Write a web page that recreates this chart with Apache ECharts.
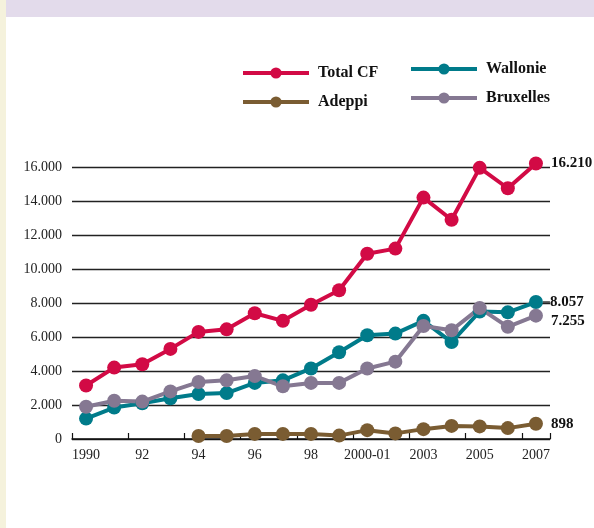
<!DOCTYPE html>
<html>
<head>
<meta charset="utf-8">
<script src="https://cdn.jsdelivr.net/npm/echarts@6/dist/echarts.min.js"></script>
<style>
html,body{margin:0;padding:0;background:#fff;}
#chart{width:594px;height:528px;}
</style>
</head>
<body>
<div id="chart"></div>
<script>
var categories = ['1990','91','92','93','94','95','96','97','98','99','2000-01','2002','2003','2004','2005','2006','2007'];
var totalCF   = [3150,4200,4400,5300,6300,6450,7400,6950,7900,8750,10900,11200,14200,12900,15950,14750,16210];
var wallonie  = [1200,1850,2100,2400,2650,2700,3300,3450,4150,5100,6100,6200,6950,5700,7500,7450,8057];
var adeppi    = [null,null,null,null,180,180,300,300,300,200,520,330,580,770,740,640,898];
var bruxelles = [1900,2250,2200,2800,3350,3450,3700,3100,3300,3300,4150,4550,6650,6400,7700,6600,7255];
var yTicks = [0,2000,4000,6000,8000,10000,12000,14000,16000];
var endLabels = {'Total CF':'16.210','Wallonie':'8.057','Adeppi':'898','Bruxelles':'7.255'};

var SERIF = '"Liberation Serif", "DejaVu Serif", serif';
var colors = {'Total CF':'#d20a45','Wallonie':'#007b8a','Adeppi':'#7a5c32','Bruxelles':'#857892'};

function fmtNum(v){
  return String(v).replace(/\B(?=(\d{3})+(?!\d))/g,'.');
}

function mk(name, values, labelOpts){
  var last = values.length - 1;
  return {
    name: name,
    type: 'line',
    clip: false,
    symbol: 'circle',
    symbolSize: 14,
    showAllSymbol: true,
    color: colors[name],
    lineStyle: {width: 4, color: colors[name]},
    itemStyle: {color: colors[name]},
    emphasis: {disabled: true},
    data: values.map(function(v, i){
      if (i !== last) return v;
      return {
        value: v,
        label: Object.assign({
          show: true,
          position: 'right',
          distance: 8,
          fontFamily: SERIF,
          fontWeight: 'bold',
          fontSize: 15,
          color: '#111',
          formatter: endLabels[name]
        }, labelOpts || {})
      };
    })
  };
}

function legendItem(name){
  return {name: name, lineStyle: {width: 4, color: colors[name]}, itemStyle: {color: colors[name]}};
}

var legendText = {fontFamily: SERIF, fontWeight: 'bold', fontSize: 16, color: '#111', padding: [0, 0, 0, 4]};

var chart = echarts.init(document.getElementById('chart'), null, {renderer:'canvas'});
chart.setOption({
  animation: false,
  backgroundColor: '#ffffff',
  graphic: [
    {type:'rect', left:0, top:0, shape:{width:6, height:528}, style:{fill:'#f5f2dc'}, z:-10},
    {type:'rect', left:6, top:0, shape:{width:588, height:17}, style:{fill:'#e3dbeb'}, z:-10}
  ],
  legend: [
    {
      data: [legendItem('Total CF'), legendItem('Adeppi')],
      orient: 'vertical',
      left: 241, top: 65, padding: 0,
      itemWidth: 66, itemHeight: 14, itemGap: 13,
      textStyle: legendText,
      selectedMode: false
    },
    {
      data: [legendItem('Wallonie'), legendItem('Bruxelles')],
      orient: 'vertical',
      left: 409, top: 61, padding: 0,
      itemWidth: 66, itemHeight: 14, itemGap: 13,
      textStyle: legendText,
      selectedMode: false
    }
  ],
  grid: {left: 72, right: 44, top: 167, bottom: 89},
  xAxis: {
    type: 'category',
    data: categories,
    boundaryGap: true,
    axisLine: {show: true, lineStyle: {color: '#111', width: 1.5}},
    axisTick: {show: true, inside: true, length: 6, lineStyle: {color: '#111', width: 1.2}},
    axisLabel: {interval: 1, fontFamily: SERIF, fontSize: 14, color: '#222', margin: 9},
    splitLine: {show: false}
  },
  yAxis: {
    type: 'value',
    min: 0, max: 16000, interval: 2000,
    axisLine: {show: false},
    axisTick: {show: false},
    axisLabel: {fontFamily: SERIF, fontSize: 14, color: '#222', margin: 10, formatter: function(v){ return fmtNum(v); }},
    splitLine: {show: true, lineStyle: {color: '#222', width: 1.3}}
  },
  series: [
    mk('Adeppi', adeppi),
    mk('Wallonie', wallonie, {
      distance: 0,
      formatter: '{d|}{t|8.057}',
      rich: {
        d: {width: 7, height: 1.5, backgroundColor: '#333'},
        t: {fontFamily: SERIF, fontWeight: 'bold', fontSize: 15, color: '#111'}
      }
    }),
    mk('Bruxelles', bruxelles, {offset: [0, 5]}),
    mk('Total CF', totalCF)
  ]
});
</script>
</body>
</html>
